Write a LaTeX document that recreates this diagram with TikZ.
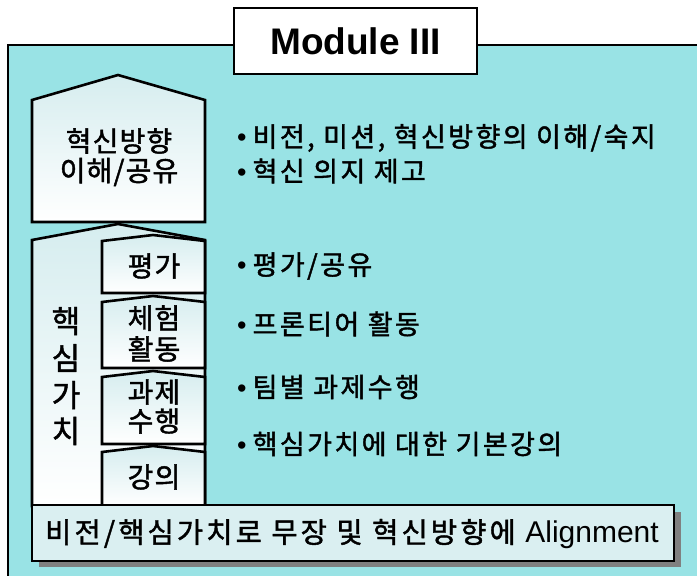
\documentclass[tikz,border=0pt]{standalone}
\usepackage{fontspec}
\setmainfont{Noto Sans CJK KR}
\newfontfamily\arial{Liberation Sans}
\newfontfamily\krbox[FakeBold=1.5, LetterSpace=4]{Noto Sans CJK KR}
\newfontfamily\krbul[FakeBold=1.5, LetterSpace=9]{Noto Sans CJK KR}
\newfontfamily\krbar[FakeBold=1.5, LetterSpace=11]{Noto Sans CJK KR}
\definecolor{teal}{RGB}{153,227,229}
\definecolor{pale}{RGB}{214,237,239}
\definecolor{barfill}{RGB}{218,239,241}
\definecolor{shadowgray}{RGB}{128,128,128}
\newcommand{\bul}{{\arial\textbullet}\hspace{6pt}}
\tikzset{
  outline/.style={draw=black, line width=2.6pt, line join=miter},
  pent/.style={outline, top color=pale, bottom color=white},
  bigtxt/.style={font=\krbox\fontsize{28}{30}\selectfont, inner sep=0pt},
  coretxt/.style={font=\krbox\fontsize{31}{33}\selectfont, inner sep=0pt},
  bullettxt/.style={font=\krbul\fontsize{27}{28}\selectfont, anchor=west, inner sep=0pt},
  bartxt/.style={font=\krbar\fontsize{28.5}{30}\selectfont, inner sep=0pt},
}
\begin{document}
\begin{tikzpicture}[x=1pt,y=-1pt]
\useasboundingbox (0,0) rectangle (697,576);
% main panel
\fill[teal] (8,45) rectangle (700,580);
\draw[line width=2.5pt] (8,580) -- (8,45) -- (700,45);
% module title
\node[draw=black, line width=2.5pt, fill=white, minimum width=243pt, minimum height=66pt, inner sep=0pt,
      font=\arial\bfseries\fontsize{37}{40}\selectfont] (title) at (355.5,41) {Module III};
% top pentagon
\path[pent] (32,222) -- (32,100) -- (118,75) -- (205,100) -- (205,222) -- cycle;
\node[bigtxt] (t1) at (119,141) {혁신방향};
\node[bigtxt] (t2) at (119,172) {이해/공유};
% core pentagon
\path[pent] (32,506) -- (32,240) -- (118,224) -- (205,240) -- (205,506) -- cycle;
\node[coretxt] (c1) at (66,321) {핵};
\node[coretxt] (c2) at (66,358) {심};
\node[coretxt] (c3) at (66,395) {가};
\node[coretxt] (c4) at (66,431) {치};
% small pentagons
\path[pent] (102,293) -- (102,241) -- (153,235) -- (205,241) -- (205,293) -- cycle;
\node[bigtxt] (s1) at (154,266) {평가};
\path[pent] (102,368) -- (102,302) -- (153,296) -- (205,302) -- (205,368) -- cycle;
\node[bigtxt] (s2a) at (154,318) {체험};
\node[bigtxt] (s2b) at (154,349) {활동};
\path[pent] (102,444) -- (102,377) -- (153,371) -- (205,377) -- (205,444) -- cycle;
\node[bigtxt] (s3a) at (154,392) {과제};
\node[bigtxt] (s3b) at (154,421) {수행};
\path[pent] (102,506) -- (102,452) -- (153,446) -- (205,452) -- (205,506) -- cycle;
\node[bigtxt] (s4) at (154,477) {강의};
% bottom bar
\fill[shadowgray] (39,512) rectangle (681,567);
\path[outline, fill=barfill] (32,505) rectangle (674,561);
\node[bartxt, anchor=west] (bar) at (45,534) {비전/핵심가치로 무장 및 혁신방향에 {\arial\fontsize{30}{32}\selectfont Alignment}};
% bullets
\node[bullettxt] (b1) at (237,138) {\bul 비전, 미션, 혁신방향의 이해/숙지};
\node[bullettxt] (b2) at (237,171) {\bul 혁신 의지 제고};
\node[bullettxt] (b3) at (237,266) {\bul 평가/공유};
\node[bullettxt] (b4) at (237,324) {\bul 프론티어 활동};
\node[bullettxt] (b5) at (237,387) {\bul 팀별 과제수행};
\node[bullettxt] (b6) at (237,444) {\bul 핵심가치에 대한 기본강의};
\end{tikzpicture}
\end{document}
